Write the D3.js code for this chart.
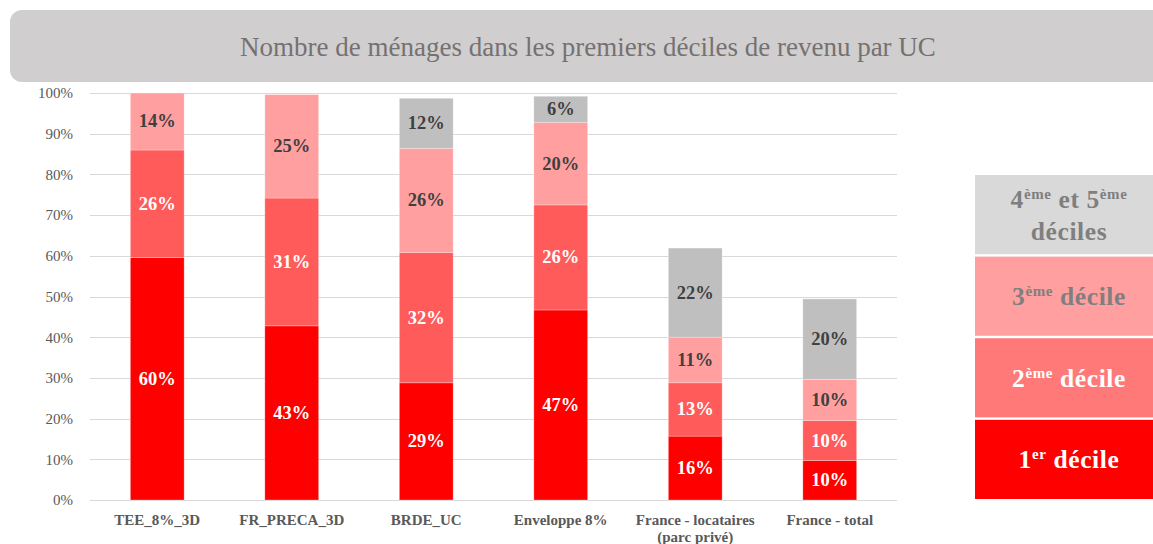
<!DOCTYPE html>
<html>
<head>
<meta charset="utf-8">
<script src="https://cdn.jsdelivr.net/npm/d3@7"></script>
<style>
  body { margin: 0; background: #fff; }
</style>
</head>
<body>
<div id="chart"></div>
<script>
// categories (x axis), second line for wrapped labels
const categories = ["TEE_8%_3D", "FR_PRECA_3D", "BRDE_UC", "Enveloppe 8%", "France - locataires", "France - total"];
const categorySub = ["", "", "", "", "(parc privé)", ""];

// series, bottom to top
const seriesKeys = ["d1", "d2", "d3", "d45"];
const decile1  = [59.6, 42.8, 28.8, 46.7, 15.7, 9.7];
const decile2  = [26.4, 31.4, 32.0, 25.8, 13.1, 9.8];
const decile3  = [14.0, 25.4, 25.6, 20.3, 11.2, 10.1];
const decile45 = [0,    0,    12.3, 6.4,  21.9, 19.8];

const yTicks = [0, 10, 20, 30, 40, 50, 60, 70, 80, 90, 100];

const title = "Nombre de ménages dans les premiers déciles de revenu par UC";

const barColors = {d1: "#FF0000", d2: "#FF5B5B", d3: "#FF9F9F", d45: "#BFBFBF"};
const labelColors = {d1: "#FFFFFF", d2: "#FFFFFF", d3: "#404040", d45: "#404040"};

// legend, top to bottom
const legendItems = [
  {key: "d45", fill: "#D9D9D9", color: "#7F7F7F", lines: [[["4", ""], ["ème", "sup"], [" et 5", ""], ["ème", "sup"]], [["déciles", ""]]]},
  {key: "d3",  fill: "#FF9F9F", color: "#7F7F7F", lines: [[["3", ""], ["ème", "sup"], [" décile", ""]]]},
  {key: "d2",  fill: "#FF7979", color: "#FFFFFF", lines: [[["2", ""], ["ème", "sup"], [" décile", ""]]]},
  {key: "d1",  fill: "#FF0000", color: "#FFFFFF", lines: [[["1", ""], ["er", "sup"], [" décile", ""]]]}
];

const FONT = "'Liberation Serif', 'Times New Roman', Times, 'DejaVu Serif', serif";

const W = 1153, H = 544;
const margin = {top: 93, right: 256, bottom: 44, left: 90};

const svg = d3.select("#chart").append("svg")
  .attr("width", W).attr("height", H)
  .style("font-family", FONT);

// title banner
svg.append("rect")
  .attr("x", 10).attr("y", 10)
  .attr("width", W + 20).attr("height", 72)
  .attr("rx", 12).attr("ry", 12)
  .attr("fill", "#D0CECE");
svg.append("text")
  .attr("x", 588).attr("y", 56)
  .attr("text-anchor", "middle")
  .style("font-family", FONT)
  .attr("font-size", 27)
  .attr("fill", "#767171")
  .text(title);

const data = categories.map((c, i) => ({
  cat: c, d1: decile1[i], d2: decile2[i], d3: decile3[i], d45: decile45[i]
}));

const x = d3.scaleBand()
  .domain(categories)
  .range([margin.left, W - margin.right])
  .paddingInner(0.6).paddingOuter(0.3);

const y = d3.scaleLinear()
  .domain([0, 100])
  .range([H - margin.bottom - 0, margin.top]);

// grid
svg.append("g")
  .selectAll("line")
  .data(yTicks)
  .join("line")
  .attr("x1", margin.left).attr("x2", W - margin.right)
  .attr("y1", d => Math.round(y(d)) + 0.5).attr("y2", d => Math.round(y(d)) + 0.5)
  .attr("stroke", "#D9D9D9").attr("stroke-width", 1);

// y axis labels
const yAxis = d3.axisLeft(y).tickValues(yTicks).tickFormat(d => d + "%").tickSize(0).tickPadding(17);
const ya = svg.append("g").attr("transform", `translate(${margin.left},0)`).call(yAxis);
ya.select(".domain").remove();
ya.attr("font-family", null);
ya.selectAll("text")
  .style("font-family", FONT)
  .attr("font-size", 15).attr("fill", "#595959");

// stacked bars
const stack = d3.stack().keys(seriesKeys);
const stacked = stack(data);

const layers = svg.append("g")
  .selectAll("g")
  .data(stacked)
  .join("g")
  .attr("fill", s => barColors[s.key]);

layers.selectAll("rect")
  .data(s => s.filter(d => d[1] - d[0] > 0))
  .join("rect")
  .attr("x", d => x(d.data.cat))
  .attr("y", d => y(d[1]))
  .attr("width", x.bandwidth())
  .attr("height", d => y(d[0]) - y(d[1]))
  .attr("stroke", "#ffffff").attr("stroke-opacity", 0.35).attr("stroke-width", 0.8);

// data labels
stacked.forEach(s => {
  svg.append("g")
    .selectAll("text")
    .data(s.filter(d => d[1] - d[0] > 0))
    .join("text")
    .attr("x", d => x(d.data.cat) + x.bandwidth() / 2)
    .attr("y", d => (y(d[0]) + y(d[1])) / 2 + 6)
    .attr("text-anchor", "middle")
    .style("font-family", FONT)
    .attr("font-size", 18.5).attr("font-weight", "bold")
    .attr("fill", labelColors[s.key])
    .text(d => Math.round(d[1] - d[0]) + "%");
});

// x axis labels
const xl = svg.append("g")
  .selectAll("text")
  .data(categories)
  .join("text")
  .attr("x", d => x(d) + x.bandwidth() / 2)
  .attr("y", 525)
  .attr("text-anchor", "middle")
  .style("font-family", FONT)
  .attr("font-size", 15).attr("font-weight", "bold")
  .attr("fill", "#595959");
xl.append("tspan").text(d => d);
xl.append("tspan")
  .attr("x", d => x(d) + x.bandwidth() / 2)
  .attr("dy", 17)
  .text((d, i) => categorySub[i]);

// legend
const legY = d3.scaleBand()
  .domain(legendItems.map(d => d.key))
  .range([175, 499])
  .paddingInner(0.03);

const leg = svg.append("g")
  .selectAll("g")
  .data(legendItems)
  .join("g")
  .attr("transform", d => `translate(975,${legY(d.key)})`);

leg.append("rect")
  .attr("width", 200).attr("height", legY.bandwidth())
  .attr("fill", d => d.fill);

leg.each(function(d) {
  const g = d3.select(this);
  const h = legY.bandwidth();
  const n = d.lines.length;
  d.lines.forEach((line, li) => {
    const t = g.append("text")
      .attr("x", 94)
      .attr("y", h / 2 + 9 + (li - (n - 1) / 2) * 32)
      .attr("text-anchor", "middle")
      .style("font-family", FONT)
      .style("letter-spacing", "0.6px")
      .attr("font-size", 25.5).attr("font-weight", "bold")
      .attr("fill", d.color);
    line.forEach(([txt, kind]) => {
      const ts = t.append("tspan").text(txt);
      if (kind === "sup") ts.attr("font-size", 15).attr("baseline-shift", "9");
    });
  });
});
</script>
</body>
</html>
